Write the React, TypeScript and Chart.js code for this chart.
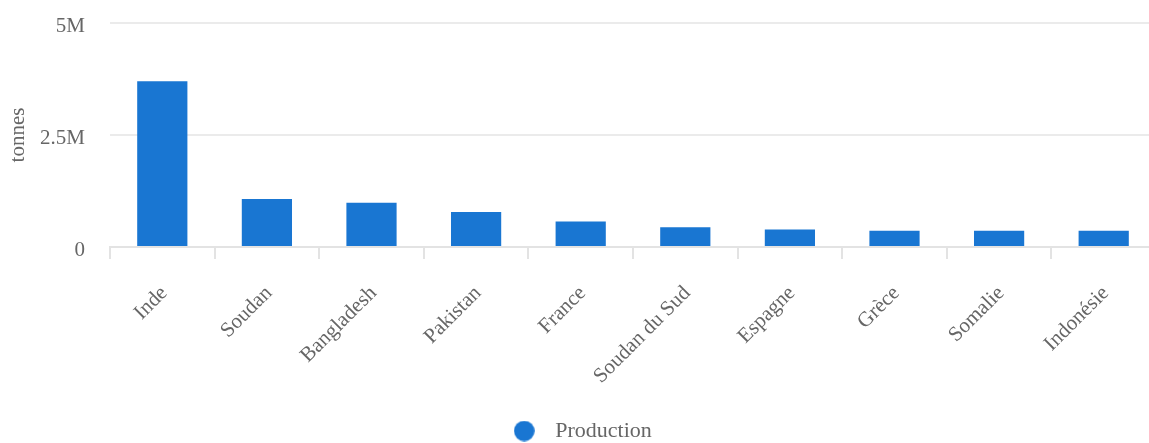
import React, { useEffect, useRef } from "react";
import { Chart, registerables } from "chart.js";

Chart.register(...registerables);

const categories = [
  "Inde",
  "Soudan",
  "Bangladesh",
  "Pakistan",
  "France",
  "Soudan du Sud",
  "Espagne",
  "Grèce",
  "Somalie",
  "Indonésie",
];
const seriesLabel = "Production";
const production = [3700000, 1070000, 990000, 780000, 570000, 440000, 390000, 360000, 360000, 360000];
const yTickValues = [0, 2500000, 5000000];
const yTickLabels = ["0", "2.5M", "5M"];
const yTitle = "tonnes";

const BAR_COLOR = "#1976d2";
const TEXT_COLOR = "#666666";
const FONT = "'Liberation Serif', 'Times New Roman', serif";
const FS = 21;

export default function App() {
  const ref = useRef<HTMLCanvasElement | null>(null);

  useEffect(() => {
    if (!ref.current) return;
    document.body.style.margin = "0";

    const dot = document.createElement("canvas");
    dot.width = 21;
    dot.height = 21;
    const dctx = dot.getContext("2d");
    if (dctx) {
      dctx.fillStyle = BAR_COLOR;
      dctx.beginPath();
      dctx.arc(10.5, 10.5, 10.3, 0, Math.PI * 2);
      dctx.fill();
    }

    const chart = new Chart(ref.current, {
      type: "bar",
      data: {
        labels: categories,
        datasets: [
          {
            label: seriesLabel,
            data: production,
            backgroundColor: BAR_COLOR,
            borderWidth: 0,
            categoryPercentage: 0.8,
            barPercentage: 0.6,
          },
        ],
      },
      options: {
        responsive: false,
        animation: false,
        devicePixelRatio: 1,
        font: { family: FONT, size: FS },
        color: TEXT_COLOR,
        layout: { padding: { top: 0, right: 0, left: 0, bottom: 0 } },
        scales: {
          x: {
            afterFit: (scale: any) => {
              scale.height = 163;
            },
            grid: {
              display: true,
              drawOnChartArea: false,
              drawTicks: true,
              tickLength: 12,
              color: "#e3e3e3",
              lineWidth: 2,
              offset: true,
            },
            border: { display: true, color: "#e3e3e3", width: 2 },
            ticks: {
              autoSkip: false,
              maxRotation: 45,
              minRotation: 45,
              padding: 22,
              labelOffset: 2,
              color: TEXT_COLOR,
              font: { family: FONT, size: FS },
            },
          },
          y: {
            min: 0,
            max: 5000000,
            afterBuildTicks: (scale: any) => {
              scale.ticks = yTickValues.map((v) => ({ value: v }));
            },
            afterFit: (scale: any) => {
              scale.width = 110;
              scale.paddingTop = 23;
              scale.paddingBottom = 0;
            },
            grid: {
              color: "#ebebeb",
              lineWidth: 2,
              drawTicks: false,
            },
            border: { display: false },
            ticks: {
              padding: 25,
              labelOffset: 3,
              color: TEXT_COLOR,
              font: { family: FONT, size: FS },
              callback: (value: any) => {
                const i = yTickValues.indexOf(Number(value));
                return i >= 0 ? yTickLabels[i] : "";
              },
            },
            title: {
              display: true,
              text: yTitle,
              color: TEXT_COLOR,
              font: { family: FONT, size: FS },
              padding: { top: 6, bottom: 0 },
            },
          },
        },
        plugins: {
          legend: {
            display: true,
            position: "bottom",
            labels: {
              usePointStyle: true,
              pointStyle: dot as any,
              pointStyleWidth: 40,
              padding: 10,
              color: TEXT_COLOR,
              font: { family: FONT, size: 22 },
            },
          },
          tooltip: { enabled: false },
        },
      },
    });

    return () => {
      chart.destroy();
    };
  }, []);

  return (
    <div style={{ position: "fixed", left: 0, top: 0, width: 1149, height: 443, overflow: "hidden", background: "#fff" }}>
      <canvas ref={ref} width={1156} height={452} style={{ display: "block" }} />
    </div>
  );
}
